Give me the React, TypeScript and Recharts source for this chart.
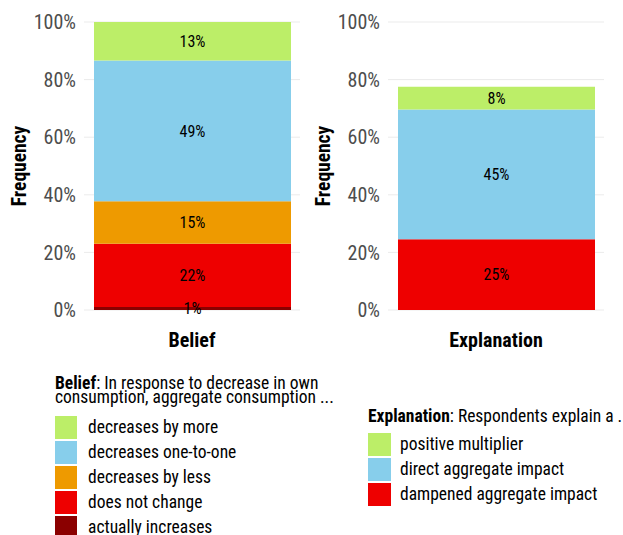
import React from 'react';
import { BarChart, Bar, XAxis, YAxis, CartesianGrid, LabelList } from 'recharts';

const FONT = '"Roboto Condensed", "Liberation Sans Narrow", "DejaVu Sans Condensed", Roboto, sans-serif';

// stacking order is bottom -> top
const beliefCats = ['actually increases', 'does not change', 'decreases by less', 'decreases one-to-one', 'decreases by more'];
const beliefValues = [1.0, 22.0, 14.8, 48.8, 13.4];
const beliefColors = ['#8B0000', '#EE0000', '#EE9A00', '#87CEEB', '#BCEE68'];

const explCats = ['dampened aggregate impact', 'direct aggregate impact', 'positive multiplier'];
const explValues = [24.6, 45.0, 7.9];
const explColors = ['#EE0000', '#87CEEB', '#BCEE68'];

const yTicks = [0, 20, 40, 60, 80, 100];

function Panel({ title, cats, values, colors, left }: { title: string; cats: string[]; values: number[]; colors: string[]; left: number }) {
  const row: Record<string, string | number> = { name: title };
  cats.forEach((c, i) => { row[c] = values[i]; });
  return (
    <div style={{ position: 'absolute', left, top: 0 }}>
      <BarChart width={310} height={360} data={[row]} margin={{ top: 22, right: 10, left: 5, bottom: 10 }}>
        <CartesianGrid vertical={false} stroke="#EBEBEB" />
        <XAxis
          dataKey="name"
          height={40}
          tickLine={false}
          axisLine={false}
          tickMargin={17}
          tick={{ fill: '#000', fontSize: 20, fontWeight: 700, fontFamily: FONT }}
        />
        <YAxis
          width={79}
          domain={[0, 100]}
          ticks={yTicks}
          tickFormatter={(v) => `${v}%`}
          tickLine={false}
          axisLine={false}
          tick={{ fill: '#4D4D4D', fontSize: 20, fontFamily: FONT }}
          label={(p: any) => {
            const vb = p.viewBox;
            const cx = vb.x + 14;
            const cy = vb.y + vb.height / 2;
            return (
              <text x={cx} y={cy} transform={`rotate(-90 ${cx} ${cy})`} textAnchor="middle" dominantBaseline="central"
                fill="#000" fontSize={19.5} fontWeight={700} fontFamily={FONT}>Frequency</text>
            );
          }}
        />
        {cats.map((c, i) => (
          <Bar key={c} dataKey={c} stackId="a" fill={colors[i]} barSize={197} isAnimationActive={false}>
            <LabelList dataKey={c} position="center" formatter={(v: any) => `${Math.round(v)}%`}
              fill="#000" fontSize={16} fontFamily={FONT} />
          </Bar>
        ))}
      </BarChart>
    </div>
  );
}

function Legend({ left, top, bold, rest, cats, colors, labelX, keyTop, keyW }: any) {
  return (
    <div style={{ position: 'absolute', left: 0, top: 0, fontFamily: FONT, color: '#000' }}>
      <div style={{ position: 'absolute', left, top, fontSize: 17.5, lineHeight: '14px', whiteSpace: 'pre' }}>
        <b>{bold}</b>{rest}
      </div>
      {cats.map((c: string, i: number) => (
        <React.Fragment key={c}>
          <div style={{ position: 'absolute', left, top: keyTop + i * 25, width: keyW, height: 23, background: colors[i] }} />
          <div style={{ position: 'absolute', left: labelX, top: keyTop + i * 25, height: 23, lineHeight: '23px', fontSize: 17.5, whiteSpace: 'nowrap' }}>{c}</div>
        </React.Fragment>
      ))}
    </div>
  );
}

export default function App() {
  return (
    <div style={{ position: 'absolute', left: 0, top: 0, width: 623, height: 535, background: '#fff', overflow: 'hidden' }}>
      <Panel title="Belief" cats={beliefCats} values={beliefValues} colors={beliefColors} left={0} />
      <Panel title="Explanation" cats={explCats} values={explValues} colors={explColors} left={304} />
      <Legend left={55} top={376} bold="Belief" rest={': In response to decrease in own\nconsumption, aggregate consumption ...'}
        cats={[...beliefCats].reverse()} colors={[...beliefColors].reverse()} labelX={88} keyTop={416} keyW={22} />
      <Legend left={368} top={409} bold="Explanation" rest=": Respondents explain a ..."
        cats={[...explCats].reverse()} colors={[...explColors].reverse()} labelX={400} keyTop={433} keyW={23} />
    </div>
  );
}
